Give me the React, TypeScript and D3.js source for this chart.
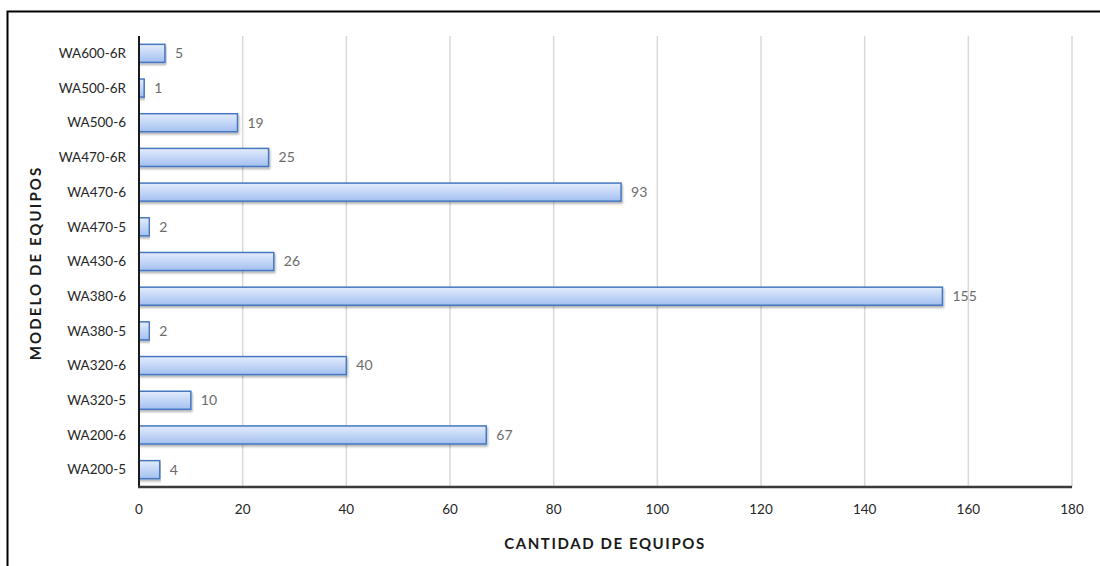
import * as d3 from "d3";

const models = [
  "WA600-6R",
  "WA500-6R",
  "WA500-6",
  "WA470-6R",
  "WA470-6",
  "WA470-5",
  "WA430-6",
  "WA380-6",
  "WA380-5",
  "WA320-6",
  "WA320-5",
  "WA200-6",
  "WA200-5",
];
const counts = [5, 1, 19, 25, 93, 2, 26, 155, 2, 40, 10, 67, 4];
const xTicks = [0, 20, 40, 60, 80, 100, 120, 140, 160, 180];

const width = 1100;
const height = 566;
const margin = { left: 139, right: 28, top: 36, bottom: 79 };
const font = "Lato, 'Open Sans', sans-serif";

export default function App() {
  const x = d3
    .scaleLinear()
    .domain([0, 180])
    .range([margin.left, width - margin.right]);

  const y = d3
    .scaleBand()
    .domain(models)
    .range([margin.top, height - margin.bottom])
    .paddingInner(0.48)
    .paddingOuter(0.24);

  const bottom = height - margin.bottom;

  return (
    <svg
      width={width}
      height={height}
      style={{ position: "absolute", left: 0, top: 0, background: "#fff" }}
    >
      <defs>
        <linearGradient id="barFill" x1="0" y1="0" x2="0" y2="1">
          <stop offset="0%" stopColor="#e3ecfc" />
          <stop offset="100%" stopColor="#a3c0f0" />
        </linearGradient>
        <filter id="shadow" x="-5%" y="-30%" width="110%" height="180%">
          <feDropShadow dx="1" dy="2" stdDeviation="1.2" floodColor="#000" floodOpacity="0.3" />
        </filter>
      </defs>

      {/* outer frame */}
      <rect x={7.5} y={11.5} width={1200} height={700} fill="none" stroke="#000" strokeWidth={2} />

      {/* grid */}
      {xTicks.slice(1).map((t) => (
        <line key={t} x1={x(t)} x2={x(t)} y1={margin.top} y2={bottom} stroke="#d9d9d9" strokeWidth={1.5} />
      ))}

      {/* bars */}
      {models.map((m, i) => (
        <g key={m}>
          <rect
            x={x(0)}
            y={y(m)}
            width={x(counts[i]) - x(0)}
            height={y.bandwidth()}
            fill="url(#barFill)"
            stroke="#4677c0"
            strokeWidth={1.5}
            filter="url(#shadow)"
          />
          <text
            x={x(counts[i]) + 10}
            y={(y(m) ?? 0) + y.bandwidth() / 2}
            dy="0.35em"
            fontFamily={font}
            fontSize={14}
            fill="#6b6b6b"
          >
            {counts[i]}
          </text>
          <text
            x={margin.left - 13}
            y={(y(m) ?? 0) + y.bandwidth() / 2}
            dy="0.35em"
            textAnchor="end"
            fontFamily={font}
            fontSize={13.5}
            fill="#262626"
          >
            {m}
          </text>
        </g>
      ))}

      {/* axes */}
      <line x1={x(0)} x2={x(0)} y1={margin.top} y2={bottom + 1} stroke="#1a1a1a" strokeWidth={2} />
      <line x1={x(0) - 1} x2={x(180)} y1={bottom} y2={bottom} stroke="#3a3a3a" strokeWidth={2.5} />

      {xTicks.map((t) => (
        <text
          key={t}
          x={x(t)}
          y={bottom + 22}
          dy="0.35em"
          textAnchor="middle"
          fontFamily={font}
          fontSize={13.5}
          fill="#262626"
        >
          {t}
        </text>
      ))}

      <text
        x={605}
        y={544}
        dy="0.35em"
        textAnchor="middle"
        fontFamily={font}
        fontSize={15}
        fontWeight="bold"
        letterSpacing={1.6}
        fill="#1a1a1a"
      >
        CANTIDAD DE EQUIPOS
      </text>
      <text
        transform="translate(36,263) rotate(-90)"
        dy="0.35em"
        textAnchor="middle"
        fontFamily={font}
        fontSize={15}
        fontWeight="bold"
        letterSpacing={2.1}
        fill="#1a1a1a"
      >
        MODELO DE EQUIPOS
      </text>
    </svg>
  );
}
